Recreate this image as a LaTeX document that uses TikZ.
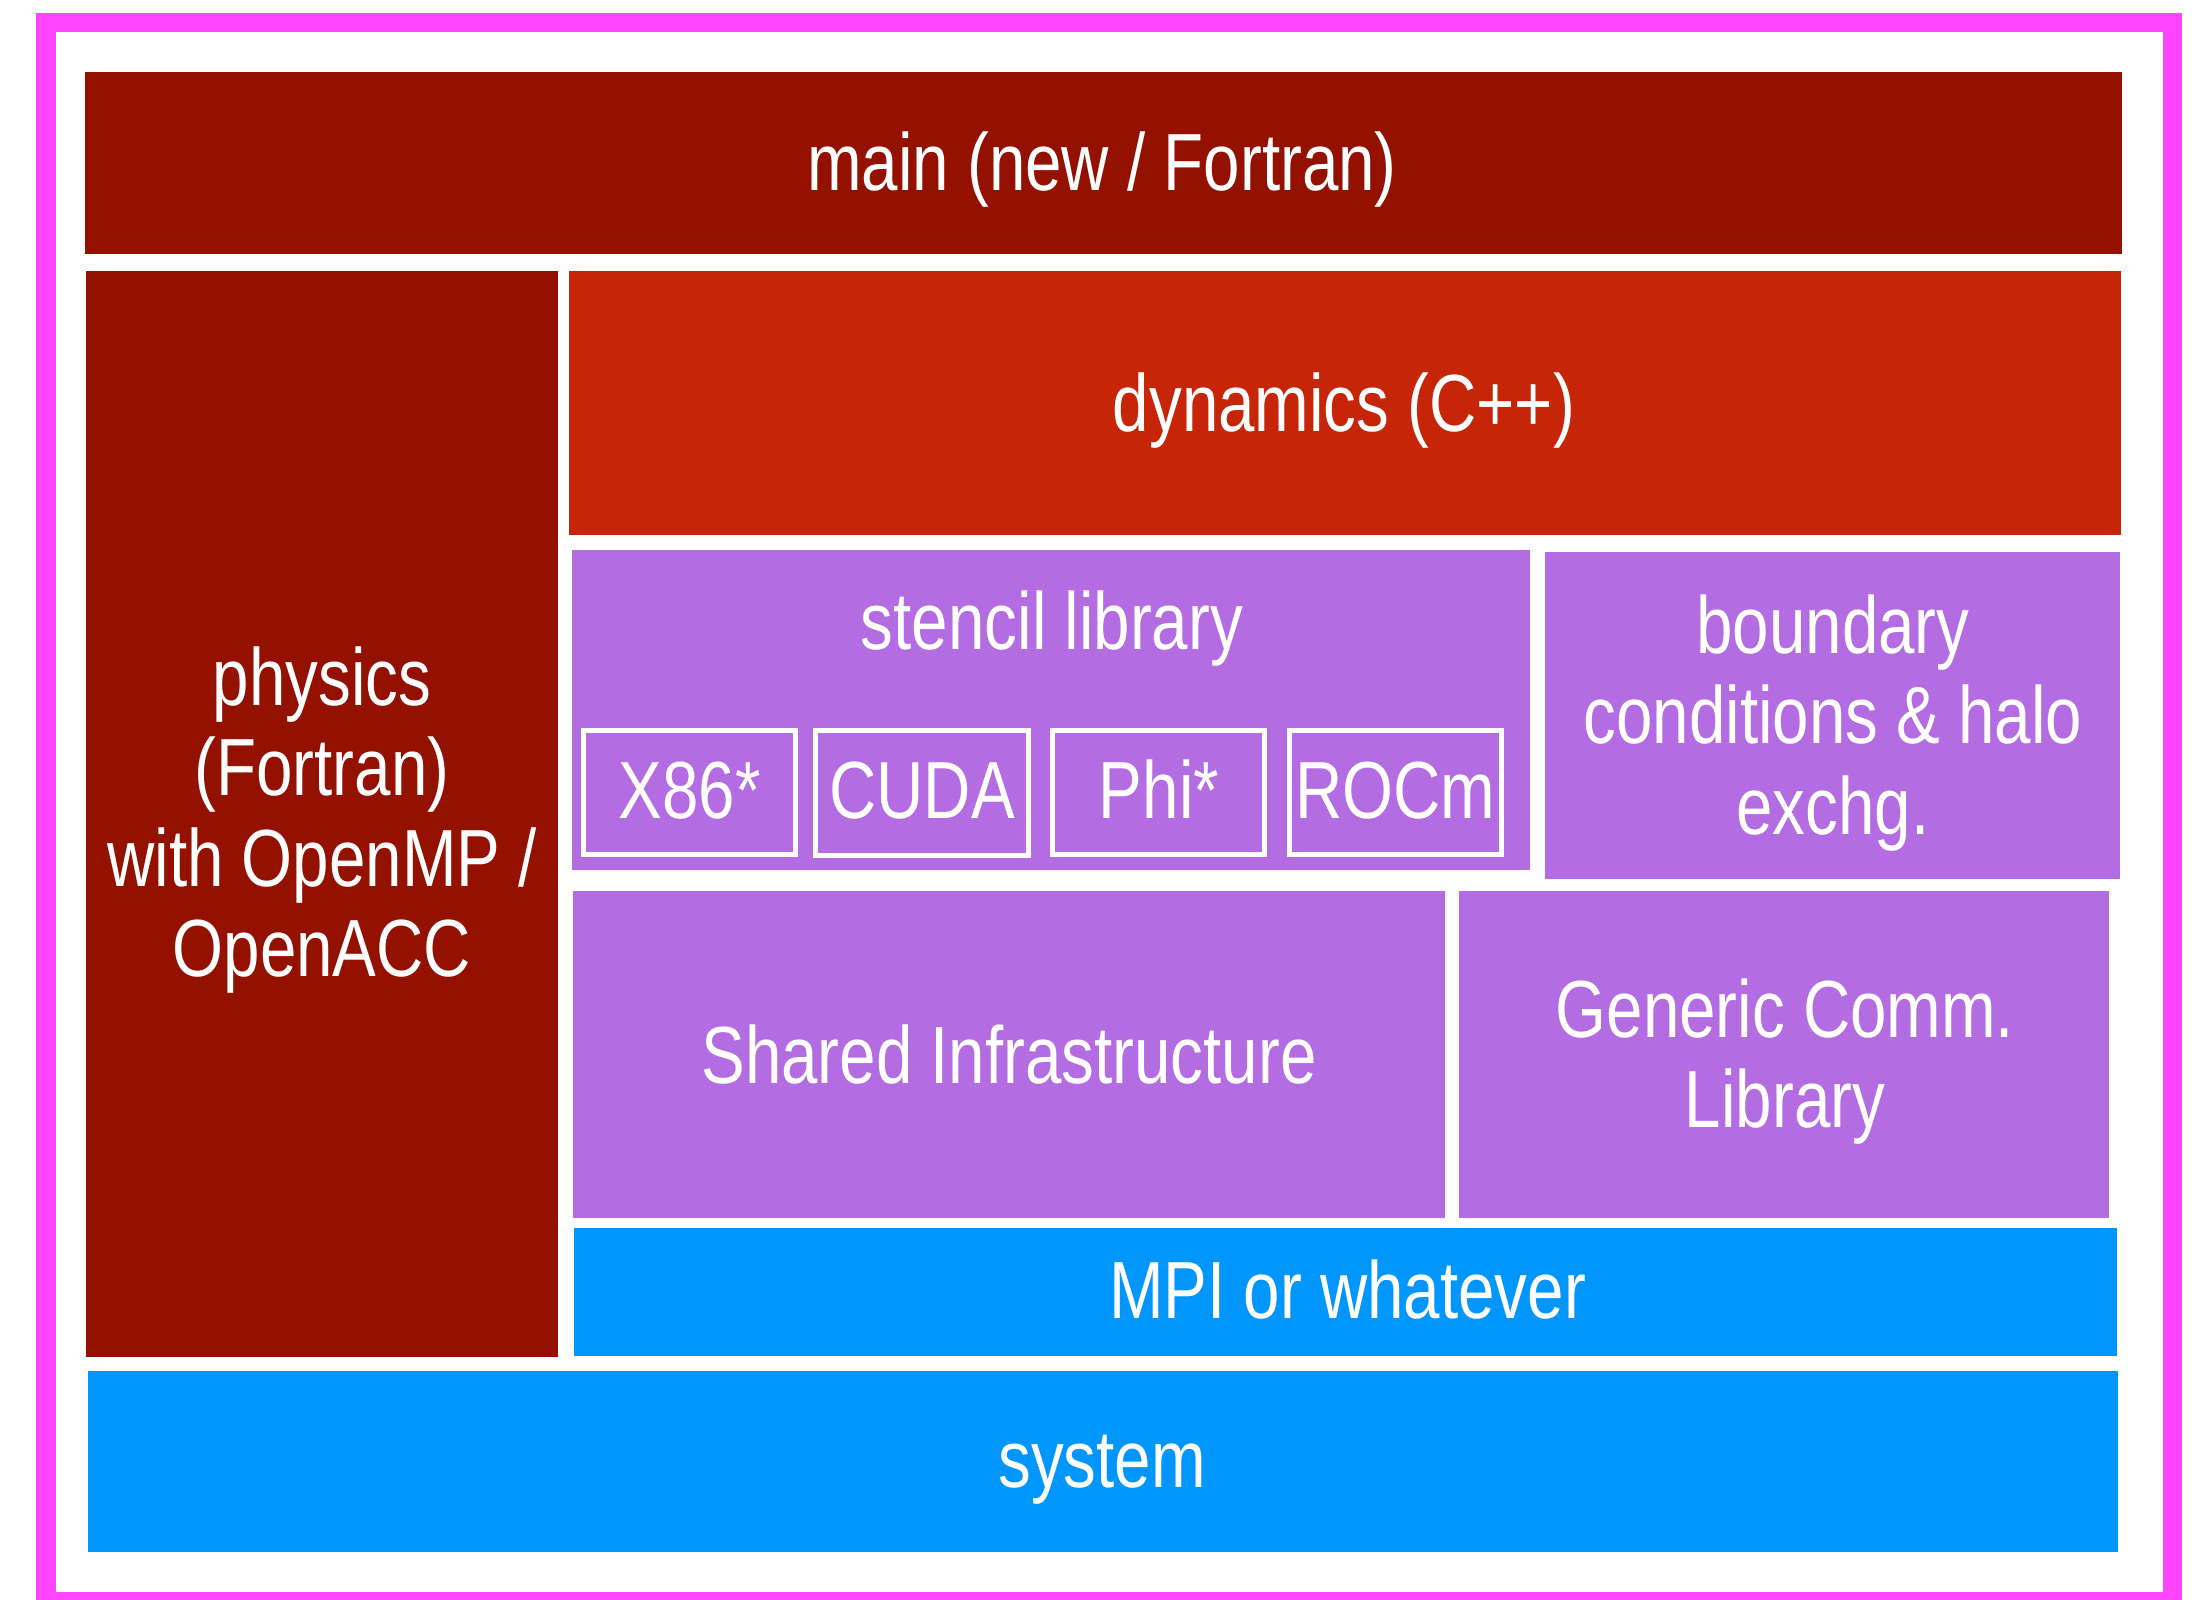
\documentclass[tikz,border=0pt]{standalone}
\usepackage{fontspec}
\setmainfont{Liberation Sans}[FakeStretch=0.808]
\definecolor{frame}{HTML}{FF45FF}
\definecolor{maroon}{HTML}{941100}
\definecolor{brick}{HTML}{C62507}
\definecolor{lilac}{HTML}{B36CE2}
\definecolor{sky}{HTML}{0096FF}
\tikzset{
  layer/.style={rectangle, inner sep=0pt, outer sep=0pt, draw=none},
  backend/.style={rectangle, inner sep=0pt, outer sep=0pt, draw=white,
    line width=0.05cm, minimum width=2.12cm, minimum height=1.24cm},
  lbl/.style={anchor=base, text=white, align=center, inner sep=0pt,
    font=\fontsize{23.05}{25.6}\selectfont},
}
\begin{document}
\begin{tikzpicture}[x=0.01cm, y=-0.01cm]
\useasboundingbox (0,0) rectangle (2194,1599);
\fill[white] (0,0) rectangle (2194,1599);
% outer frame
\draw[frame, line width=0.19cm] (46,22) rectangle (2172.5,1601.5);

% layers
\node[layer, fill=maroon, minimum width=20.35cm, minimum height=1.82cm] (main) at (1103.5,163) {};
\node[layer, fill=maroon, minimum width=4.72cm, minimum height=10.86cm] (physics) at (322,814) {};
\node[layer, fill=brick, minimum width=15.52cm, minimum height=2.64cm] (dynamics) at (1345,403) {};
\node[layer, fill=lilac, minimum width=9.58cm, minimum height=3.20cm] (stencil) at (1051,710) {};
\node[layer, fill=lilac, minimum width=5.75cm, minimum height=3.27cm] (boundary) at (1832.5,715.5) {};
\node[layer, fill=lilac, minimum width=8.72cm, minimum height=3.27cm] (shared) at (1009,1054.5) {};
\node[layer, fill=lilac, minimum width=6.50cm, minimum height=3.27cm] (generic) at (1784,1054.5) {};
\node[layer, fill=sky, minimum width=15.43cm, minimum height=1.28cm] (mpi) at (1345.5,1292) {};
\node[layer, fill=sky, minimum width=20.28cm, minimum height=1.81cm] (system) at (1103,1461.5) {};

% stencil back ends
\node[backend] (x86) at (689.5,792.5) {};
\node[backend] (cuda) at (922,793) {};
\node[backend] (phi) at (1158.5,792.5) {};
\node[backend] (rocm) at (1395.5,792.5) {};

% labels
\node[lbl] (mainT) at (1102,190) {main (new / Fortran)};
\node[lbl] (dynT) at (1344,431) {dynamics (C++)};
\node[lbl] (physT) at (322,976) {physics\\(Fortran)\\with OpenMP /\\OpenACC};
\node[lbl] (stenT) at (1052,649) {stencil library};
\node[lbl] (x86T) at (689.5,818) {X86*};
\node[lbl] (cudaT) at (922,818) {CUDA};
\node[lbl] (phiT) at (1159,818) {Phi*};
\node[lbl] (rocmT) at (1395.5,818) {ROCm};
\node[lbl] (bndT) at (1833,834) {boundary\\conditions \& halo\\exchg.};
\node[lbl] (sharedT) at (1009,1083) {Shared Infrastructure};
\node[lbl] (genT) at (1785,1127.5) {Generic Comm.\\Library};
\node[lbl] (mpiT) at (1347.5,1318) {MPI or whatever};
\node[lbl] (sysT) at (1102,1487) {system};
\end{tikzpicture}
\end{document}
